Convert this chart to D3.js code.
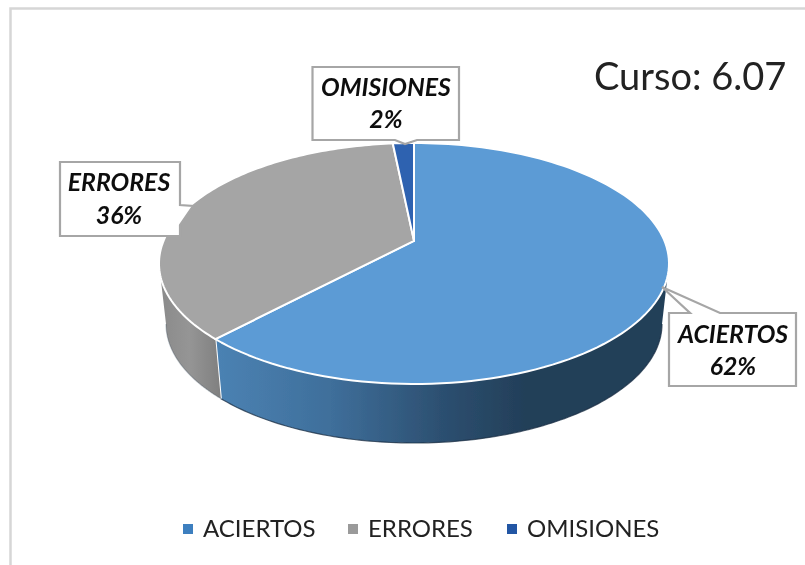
<!DOCTYPE html>
<html><head><meta charset="utf-8">
<script src="https://cdn.jsdelivr.net/npm/d3@7/dist/d3.min.js"></script>
<style>html,body{margin:0;padding:0;background:#fff}svg{display:block}</style>
</head><body><svg id="c" width="805" height="565"></svg>
<script>
const categories = ["ACIERTOS", "ERRORES", "OMISIONES"];
const values = [62, 36.4, 1.6];
const percentLabels = ["62%", "36%", "2%"];
const topColors = ["#5b9bd5", "#a5a5a5", "#2f62b0"];
const title = "Curso: 6.07";

const svg = d3.select("#c");
const defs = svg.append("defs");
const soft = defs.append("filter").attr("id","soft").attr("x","-5%").attr("y","-5%").attr("width","110%").attr("height","110%");
soft.append("feGaussianBlur").attr("stdDeviation",0.55);

const grad = defs.append("linearGradient").attr("id","blueSide").attr("gradientUnits","userSpaceOnUse")
  .attr("x1",216).attr("x2",670).attr("y1",0).attr("y2",0);
[[0,"#4b82b3"],[0.25,"#3f6f9b"],[0.5,"#2c4f70"],[0.68,"#233f59"],[1,"#233f58"]].forEach(s=>grad.append("stop").attr("offset",s[0]).attr("stop-color",s[1]));
const gradG = defs.append("linearGradient").attr("id","graySide").attr("gradientUnits","userSpaceOnUse")
  .attr("x1",159).attr("x2",220).attr("y1",0).attr("y2",0);
[[0,"#8a8a8a"],[0.5,"#959595"],[1,"#808080"]].forEach(s=>gradG.append("stop").attr("offset",s[0]).attr("stop-color",s[1]));
const sideFill = ["url(#blueSide)","url(#graySide)","#2f62b0"];

// geometry of the tilted disc
const cx = 414, cy = 263.5, rx = 255, ry = 120.5;   // top face
const bcy = 324, brx = 248, bry = 119;              // bottom rim
const apexShift = 0.1875;                            // perspective shift of the apex

function unit(a){
  const x = Math.sin(a), y = Math.cos(a), d = 1 + apexShift*y;
  return [x*Math.sqrt(1-apexShift*apexShift)/d, (y+apexShift)/d];
}
const topPt = a => { const u = unit(a); return [cx+rx*u[0], cy-ry*u[1]]; };
const botPt = a => { const u = unit(a); return [cx+brx*u[0], bcy-bry*u[1]]; };
const samples = (a0,a1) => d3.range(0,121).map(i=>a0+(a1-a0)*i/120);
const line = d3.line();

const arcs = d3.pie().sort(null)(values);
const g = svg.append("g").attr("filter","url(#soft)");

// frame
g.append("path").attr("d","M10.5,565V8.5H805").attr("fill","none").attr("stroke","#d6d6d6").attr("stroke-width",2.5);

// side walls
const visLo = Math.acos(-apexShift), visHi = 2*Math.PI - visLo;
arcs.forEach((d,i)=>{
  const a0 = Math.max(d.startAngle,visLo), a1 = Math.min(d.endAngle,visHi);
  if(a1<=a0) return;
  const s = samples(a0,a1);
  const pts = s.map(topPt).concat(s.slice().reverse().map(botPt));
  g.append("path").attr("d",line(pts)+"Z").attr("fill",sideFill[i]);
  g.append("path").attr("d",line(s.map(botPt))).attr("fill","none").attr("stroke","#1b2f44").attr("stroke-opacity",i===0?0.75:0.25).attr("stroke-width",1.2);
  if(i===0) g.append("path").attr("d",line([topPt(a1),botPt(a1)])).attr("stroke","#fff").attr("stroke-width",2);
});

// top face
arcs.forEach((d,i)=>{
  const apex = [cx, cy-ry*apexShift];
  const s = samples(d.startAngle,d.endAngle).map(topPt);
  g.append("path").attr("d",line([apex].concat(s))+"Z").attr("fill",topColors[i])
    .attr("stroke","#fff").attr("stroke-width",2).attr("stroke-linejoin","round");
});

// data callouts
const callouts = [
  {i:0, box:[669,313,796,386], pointer:[[720,313],[662,287],[690,313]], tx:733, ty:[343,375]},
  {i:1, box:[60,162,180,236], pointer:[[180,205],[193,206],[180,225]], tx:119, ty:[191,224]},
  {i:2, box:[312.5,67,459,140], pointer:[[417,140],[405,144],[395,140]], tx:386, ty:[96,128]}
];
callouts.forEach(c=>{
  const [x0,y0,x1,y1] = c.box, p = c.pointer;
  let pts;
  if(c.i===0) pts=[[x0,y0],p[2],p[1],p[0],[x1,y0],[x1,y1],[x0,y1]];
  if(c.i===1) pts=[[x0,y0],[x1,y0],p[0],p[1],p[2],[x1,y1],[x0,y1]];
  if(c.i===2) pts=[[x0,y0],[x1,y0],[x1,y1],p[0],p[1],p[2],[x0,y1]];
  g.append("path").attr("d",line(pts)+"Z").attr("fill","#fff").attr("stroke","#a6a6a6").attr("stroke-width",2.2);
  [categories[c.i],percentLabels[c.i]].forEach((t,k)=>{
    g.append("text").attr("x",c.tx).attr("y",c.ty[k]).attr("text-anchor","middle")
      .attr("font-family","Lato").attr("font-weight",700).attr("font-style","italic")
      .attr("font-size",24.8).attr("fill","#111").text(t);
  });
});

// title
g.append("text").attr("x",594).attr("y",90).attr("font-family","Lato").attr("font-size",38).attr("fill","#222").text(title);

// legend
const legendMarkerX = [183,348,507];
categories.forEach((t,i)=>{
  g.append("rect").attr("x",legendMarkerX[i]).attr("y",524).attr("width",10).attr("height",10).attr("fill",i===0?"#3c7fbf":i===1?"#9a9a9a":"#2456a4");
  g.append("text").attr("x",legendMarkerX[i]+20).attr("y",537).attr("font-family","Lato").attr("font-size",24).attr("fill","#222").text(t);
});
</script></body></html>
